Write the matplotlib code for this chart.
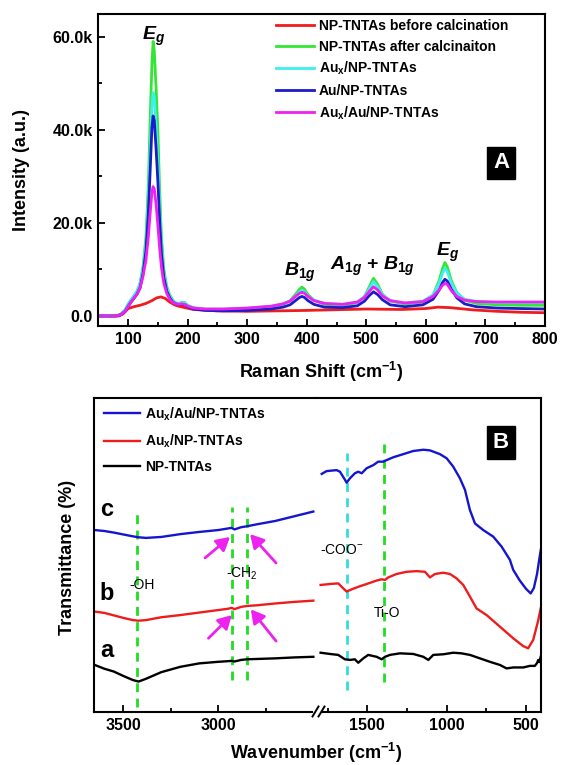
import numpy as np
import matplotlib
matplotlib.use("Agg")
import matplotlib.pyplot as plt
from matplotlib.ticker import FixedLocator, FuncFormatter
from matplotlib.lines import Line2D

plt.rcParams.update({
    "font.family": ["Liberation Sans", "DejaVu Sans"],
    "font.weight": "bold",
    "mathtext.fontset": "custom",
    "mathtext.rm": "Liberation Sans:bold",
    "mathtext.bf": "Liberation Sans:bold",
    "mathtext.it": "Liberation Sans:bold:italic",
    "axes.linewidth": 1.5,
})

# ---------------- Raman data (intensity in k counts) ----------------
raman_shift = [50, 80, 88, 95, 100, 105, 110, 115, 120, 125, 130, 134, 137, 140, 142,
               144, 147, 150, 153, 156, 160, 165, 170, 175, 180, 185, 190, 195, 200, 210,
               230, 260, 300, 340, 360, 372, 382, 388, 392, 396, 402, 412, 430, 460, 485,
               497, 505, 512, 519, 527, 540, 565, 595, 612, 622, 628, 632, 636, 643, 652,
               665, 685, 720, 760, 800]

after_calc = [0.0, 0.0, 0.4, 1.3, 2.5, 3.4, 4.3, 5.3, 7.0, 10.5, 17.0, 28.0, 42.0, 54.0, 59.0,
              57.0, 49.0, 40.0, 27.0, 17.0, 10.0, 6.3, 4.5, 3.4, 2.8, 2.7, 2.9, 2.9, 2.3, 1.7,
              1.4, 1.4, 1.6, 2.0, 2.5, 3.3, 4.8, 5.8, 6.2, 5.8, 4.6, 3.4, 2.5, 2.3, 2.9,
              4.2, 6.3, 8.1, 6.8, 4.7, 3.2, 2.6, 3.0, 4.5, 7.5, 10.2, 11.5, 10.5, 7.5, 5.0,
              3.4, 2.7, 2.4, 2.3, 2.3]

aux_np = [0.0, 0.0, 0.4, 1.3, 2.6, 3.5, 4.4, 5.3, 6.8, 10.0, 15.5, 25.0, 35.0, 45.0, 48.0,
          47.0, 41.0, 33.0, 23.0, 15.0, 9.2, 6.0, 4.3, 3.3, 2.8, 2.7, 2.8, 2.8, 2.3, 1.8,
          1.5, 1.5, 1.7, 2.1, 2.6, 3.2, 4.4, 5.2, 5.5, 5.2, 4.3, 3.4, 2.7, 2.5, 3.0,
          4.2, 5.9, 7.4, 6.3, 4.6, 3.3, 2.8, 3.2, 4.5, 7.0, 9.2, 10.3, 9.5, 7.0, 5.0,
          3.6, 3.1, 2.9, 2.9, 2.9]

au_np = [0.0, 0.0, 0.3, 1.0, 2.0, 3.0, 3.8, 4.7, 6.0, 9.0, 14.0, 22.0, 31.0, 40.5, 43.0,
         42.0, 36.0, 29.0, 20.5, 13.5, 8.3, 5.3, 3.9, 3.0, 2.6, 2.5, 2.5, 2.4, 2.0, 1.5,
         1.2, 1.1, 1.2, 1.5, 1.9, 2.4, 3.4, 4.0, 4.2, 4.0, 3.3, 2.5, 1.9, 1.8, 2.2,
         3.2, 4.4, 5.2, 4.6, 3.5, 2.4, 2.0, 2.4, 3.6, 5.5, 7.2, 7.9, 7.5, 5.7, 3.9,
         2.6, 2.0, 1.7, 1.6, 1.5]

aux_au_np = [0.0, 0.0, 0.3, 1.0, 2.0, 3.0, 3.9, 4.7, 6.0, 8.5, 12.0, 17.0, 22.0, 26.5, 27.8,
             27.3, 24.0, 19.5, 14.5, 10.5, 7.0, 4.8, 3.6, 2.9, 2.6, 2.5, 2.6, 2.5, 2.1, 1.7,
             1.5, 1.5, 1.7, 2.1, 2.6, 3.2, 4.3, 4.9, 5.1, 4.9, 4.2, 3.3, 2.7, 2.5, 3.0,
             4.0, 5.3, 6.3, 5.6, 4.3, 3.3, 2.8, 3.1, 4.2, 5.6, 6.6, 7.0, 6.8, 5.4, 4.2,
             3.4, 3.1, 3.0, 3.0, 3.0]

before_shift = [50, 85, 92, 100, 110, 120, 130, 140, 148, 155, 162, 170, 178, 185, 195,
                210, 250, 300, 400, 500, 560, 600, 620, 640, 680, 720, 760, 800]
before_calc = [0.0, 0.0, 0.5, 1.6, 2.0, 2.3, 2.7, 3.3, 3.9, 4.1, 3.8, 3.0, 2.4, 2.1, 1.8,
               1.4, 1.1, 1.0, 1.2, 1.5, 1.4, 1.6, 1.9, 1.8, 1.3, 1.0, 0.8, 0.7]

raman_labels = ["NP-TNTAs before calcination", "NP-TNTAs after calcinaiton",
                r"Au$_\mathregular{x}$/NP-TNTAs", "Au/NP-TNTAs",
                r"Au$_\mathregular{x}$/Au/NP-TNTAs"]
raman_colors = ["#ee1c1c", "#33e633", "#3cf0f0", "#1c1cc8", "#f020f0"]

# ---------------- FTIR data (offset transmittance, arbitrary) ----------------
wn_high = [3650, 3600, 3550, 3500, 3450, 3420, 3380, 3300, 3200, 3100, 3000, 2950,
           2930, 2915, 2880, 2850, 2800, 2700, 2600, 2500]
c_high = [58.0, 57.7, 57.2, 56.6, 56.0, 55.7, 55.5, 55.8, 56.7, 57.4, 58.0, 58.5,
          58.7, 58.2, 58.9, 59.2, 59.8, 60.9, 62.4, 63.9]
b_high = [32.0, 31.6, 30.8, 30.0, 29.3, 29.1, 29.3, 30.2, 30.9, 31.7, 32.5, 32.9,
          33.2, 32.8, 33.5, 33.8, 34.0, 34.6, 35.1, 35.5]
a_high = [15.0, 13.8, 12.9, 11.5, 10.2, 9.7, 10.6, 12.7, 14.4, 15.5, 16.0, 16.2,
          16.3, 16.1, 16.6, 16.8, 16.9, 17.1, 17.4, 17.6]

wn_c_low = [1787, 1756, 1693, 1672, 1640, 1630, 1609, 1578, 1557, 1535, 1504, 1462,
            1431, 1399, 1378, 1336, 1273, 1210, 1147, 1105, 1042, 1000, 958, 916,
            884, 853, 821, 769, 706, 653, 601, 580, 540, 500, 470, 450, 430, 415, 405]
c_low = [75.9, 76.8, 77.1, 76.6, 74.0, 73.1, 74.5, 76.1, 76.6, 76.1, 77.7, 78.7,
         79.8, 79.8, 80.3, 81.2, 82.2, 83.2, 83.6, 83.4, 82.2, 80.9, 78.2, 74.5,
         70.8, 64.4, 60.1, 58.0, 55.9, 52.7, 48.5, 45.3, 42.0, 39.3, 37.8, 39.5,
         44.0, 49.0, 52.0]

wn_b_low = [1794, 1735, 1683, 1651, 1630, 1598, 1557, 1504, 1441, 1409, 1388, 1368,
            1315, 1252, 1189, 1136, 1105, 1073, 1021, 979, 937, 895, 853, 811, 748,
            664, 580, 517, 486, 454, 422, 407]
b_low = [40.5, 40.8, 41.0, 39.4, 38.4, 39.1, 39.9, 40.8, 41.9, 42.3, 42.1, 42.9,
         44.0, 44.7, 44.9, 44.7, 42.9, 44.0, 44.4, 44.0, 42.6, 40.5, 36.8, 33.0, 30.9,
         27.2, 23.5, 21.0, 20.3, 23.0, 29.3, 33.0]

wn_a_low = [1794, 1735, 1683, 1641, 1609, 1578, 1557, 1525, 1494, 1441, 1409, 1388,
            1357, 1294, 1210, 1147, 1115, 1084, 1021, 958, 906, 853, 790, 727, 664,
            622, 580, 517, 475, 444, 430, 422, 415, 407]
a_low = [18.9, 18.5, 18.2, 16.8, 16.6, 16.8, 15.7, 17.1, 18.2, 17.6, 16.8, 17.6,
         18.2, 18.7, 18.5, 17.6, 16.6, 18.2, 18.4, 18.9, 18.7, 18.2, 17.1, 16.0, 15.0,
         13.9, 14.2, 14.2, 14.7, 14.7, 15.6, 16.6, 15.9, 17.6]

ftir_labels = [r"Au$_\mathregular{x}$/Au/NP-TNTAs", r"Au$_\mathregular{x}$/NP-TNTAs", "NP-TNTAs"]
ftir_colors = ["#1515d0", "#ee1c1c", "black"]

# band markers: (wavenumber, bottom, top, colour)
bands_high = [(3430, 1.7, 63.8, "#22dd22"), (2930, 10.2, 65.4, "#22dd22"),
              (2850, 10.2, 65.4, "#22dd22")]
bands_low = [(1630, 7.0, 82.5, "#33dddd"), (1395, 9.7, 86.2, "#22dd22")]

W, H = 561, 765
fig = plt.figure(figsize=(W / 100, H / 100), dpi=100)


def box(l, t, r, b):
    return [l / W, 1 - b / H, (r - l) / W, (b - t) / H]


def ftext(x, y, s, **kw):
    fig.text(x / W, 1 - y / H, s, ha="center", va="center", **kw)


# ---------------- panel A ----------------
ax = fig.add_axes(box(98.3, 14, 545, 326))
ax.plot(before_shift, before_calc, color=raman_colors[0], lw=2.0, label=raman_labels[0])
for ys, col, lab in zip([after_calc, aux_np, au_np, aux_au_np], raman_colors[1:], raman_labels[1:]):
    ax.plot(raman_shift, ys, color=col, lw=2.0, label=lab)
ax.set_xlim(50, 800)
ax.set_ylim(-2.15, 64.9)
ax.xaxis.set_major_locator(FixedLocator(range(100, 801, 100)))
ax.xaxis.set_minor_locator(FixedLocator(range(50, 801, 100)))
ax.yaxis.set_major_locator(FixedLocator([0, 20, 40, 60]))
ax.yaxis.set_minor_locator(FixedLocator([10, 30, 50]))
ax.yaxis.set_major_formatter(FuncFormatter(lambda v, p: "0.0" if v == 0 else f"{v:.1f}k"))
ax.tick_params(which="both", direction="in", width=1.3, labelsize=11.5, pad=4)
ax.tick_params(which="major", length=5)
ax.tick_params(which="minor", length=3)

ax.legend(loc="upper left", bbox_to_anchor=(272 / W, 1 - 15 / H), bbox_transform=fig.transFigure,
          frameon=False, fontsize=10, handlelength=2.7, handletextpad=0.35,
          labelspacing=0.46, borderaxespad=0, borderpad=0.3)

ax.text(143.6, 59.4, r"$\mathit{E}_{\mathit{g}}$", fontsize=14, ha="center", va="baseline")
ax.text(388, 8.6, r"$\mathit{B}_{\mathit{1g}}$", fontsize=14, ha="center", va="baseline")
ax.text(511, 9.8, r"$\mathit{A}_{\mathit{1g}}$ + $\mathit{B}_{\mathit{1g}}$", fontsize=14,
        ha="center", va="baseline")
ax.text(636, 12.8, r"$\mathit{E}_{\mathit{g}}$", fontsize=14, ha="center", va="baseline")
ftext(501, 163, "A", color="white", fontsize=16,
      bbox=dict(boxstyle="square,pad=0.25", fc="black", ec="black"))

ftext(22, 170, "Intensity (a.u.)", fontsize=13, rotation=90)
ftext(321, 372, r"Raman Shift (cm$^{-1}$)", fontsize=13)

# ---------------- panel B (broken wavenumber axis) ----------------
axl = fig.add_axes(box(94, 398.3, 316, 712))
axr = fig.add_axes(box(316, 398.3, 541, 712))
axl.set_xlim(3654, 2486)
axr.set_xlim(1823, 405)
for a in (axl, axr):
    a.set_ylim(0, 100)
    a.set_yticks([])
    a.tick_params(which="both", direction="in", width=1.3, labelsize=11.5, pad=4)
    a.tick_params(which="major", length=5)
    a.tick_params(which="minor", length=3)
axl.spines["right"].set_visible(False)
axr.spines["left"].set_visible(False)
axl.spines["bottom"].set_bounds(3654, 2505)
axr.spines["bottom"].set_bounds(1780, 405)
axl.xaxis.set_major_locator(FixedLocator([3500, 3000]))
axl.xaxis.set_minor_locator(FixedLocator([3250, 2750]))
axr.xaxis.set_major_locator(FixedLocator([1500, 1000, 500]))
axr.xaxis.set_minor_locator(FixedLocator([1750, 1250, 750]))

for ys, col, lab in zip([c_high, b_high, a_high], ftir_colors, ftir_labels):
    axl.plot(wn_high, ys, color=col, lw=1.7, label=lab)
axr.plot(wn_c_low, c_low, color=ftir_colors[0], lw=1.7)
axr.plot(wn_b_low, b_low, color=ftir_colors[1], lw=1.7)
axr.plot(wn_a_low, a_low, color=ftir_colors[2], lw=1.7)

for a, bands in ((axl, bands_high), (axr, bands_low)):
    for wn, y0, y1, col in bands:
        a.plot([wn, wn], [y0, y1], color=col, lw=2, dashes=(3.2, 2.3), zorder=1)

# break marks on the wavenumber axis
for x0 in (312.5, 318.5):
    fig.add_artist(Line2D([x0 / W, (x0 + 6) / W], [1 - 716.5 / H, 1 - 706.5 / H],
                          color="black", lw=1.4))

axl.legend(loc="upper left", bbox_to_anchor=(100 / W, 1 - 401 / H), bbox_transform=fig.transFigure,
           frameon=False, fontsize=10, handlelength=2.6, handletextpad=0.35,
           labelspacing=0.72, borderaxespad=0, borderpad=0.3)

# -CH2 stretch arrows
arrow = dict(arrowstyle="-|>,head_length=0.8,head_width=0.45", color="#ee22ee", lw=2.0,
             shrinkA=0, shrinkB=0)
for tail, head in [((3070, 49.1), (2938, 55.8)), ((2696, 47.5), (2833, 56.7)),
                   ((3052, 23.5), (2929, 30.9)), ((2696, 22.6), (2829, 32.7))]:
    axl.annotate("", xy=head, xytext=tail, arrowprops=arrow)

for s, y in (("c", 64.4), ("b", 37.9), ("a", 19.5)):
    axl.text(3586, y, s, fontsize=17, ha="center", va="center")
axl.text(3403, 40.5, "-OH", fontsize=10, fontweight="normal", ha="center", va="center")
axl.text(2877, 44.2, "-CH$_\\mathregular{2}$", fontsize=10, fontweight="normal", ha="center", va="center")
axr.text(1661, 51.6, "-COO$^\\mathregular{-}$", fontsize=10, fontweight="normal", ha="center", va="center")
axr.text(1378, 31.7, "Ti-O", fontsize=10, fontweight="normal", ha="center", va="center")
ftext(501, 442.5, "B", color="white", fontsize=16,
      bbox=dict(boxstyle="square,pad=0.25", fc="black", ec="black"))

ftext(67, 557, "Transmittance (%)", fontsize=13, rotation=90)
ftext(316, 753, r"Wavenumber (cm$^{-1}$)", fontsize=13)

fig.savefig("out.png", dpi=100)
